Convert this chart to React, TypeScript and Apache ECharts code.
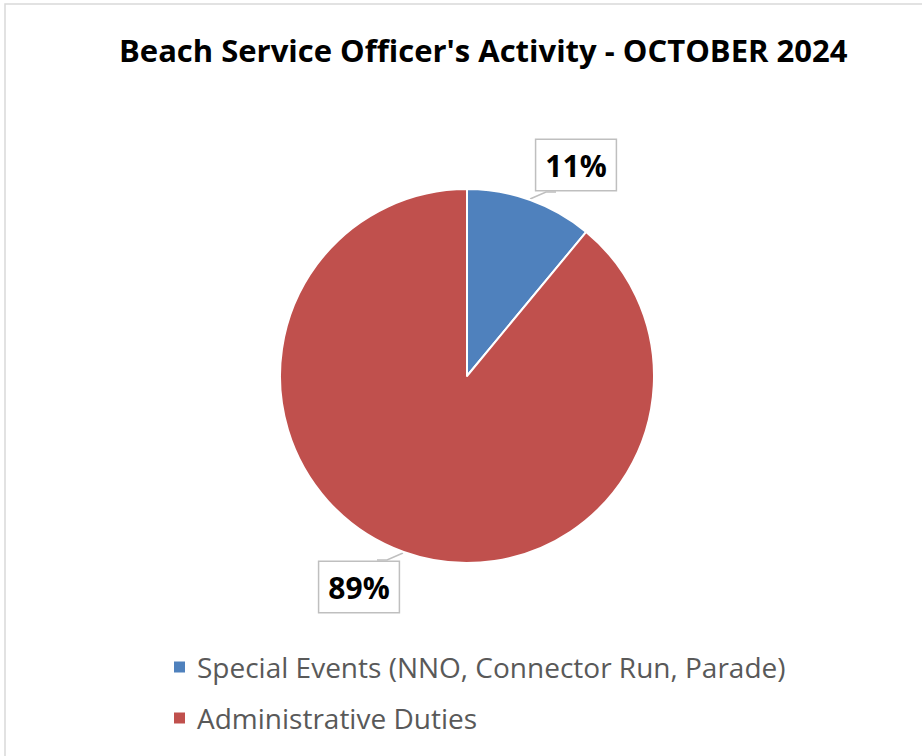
import React, { useEffect, useRef } from "react";
import * as echarts from "echarts";

const categories = ["Special Events (NNO, Connector Run, Parade)", "Administrative Duties"];
const values = [11, 89];
const colors = ["#4f81bd", "#c0504d"];
const titleText = "Beach Service Officer's Activity - OCTOBER 2024";

export default function App() {
  const ref = useRef<HTMLDivElement>(null);
  useEffect(() => {
    if (!ref.current) return;
    const chart = echarts.init(ref.current, null, { renderer: "svg" });
    const labelPos: Record<number, [number, number]> = { 0: [576, 165], 1: [359, 587] };
    const linePts: Record<number, number[][]> = {
      0: [[530, 199], [546, 192], [556, 192]],
      1: [[403, 553], [387, 560], [377, 560]],
    };
    chart.setOption({
      animation: false,
      backgroundColor: "#ffffff",
      title: {
        text: titleText,
        left: 114,
        top: 29,
        textStyle: { fontFamily: "Open Sans", fontWeight: "bold", fontSize: 31, color: "#000000" },
      },
      graphic: [
        {
          type: "rect",
          shape: { x: 5, y: 4, width: 940, height: 780 },
          style: { fill: "none", stroke: "#d9d9d9", lineWidth: 1.5 },
          silent: true,
        },
      ],
      legend: {
        orient: "vertical",
        left: 172,
        top: 652,
        padding: 0,
        itemWidth: 13,
        itemHeight: 13,
        itemGap: 21,
        icon: "rect",
        textStyle: { fontFamily: "Open Sans", fontSize: 28, lineHeight: 30, color: "#595959", padding: [0, 0, 0, 6] },
        data: categories,
      },
      series: [
        {
          type: "pie",
          center: [467, 376],
          radius: 187,
          startAngle: 90,
          clockwise: true,
          itemStyle: { borderColor: "#ffffff", borderWidth: 2 },
          data: categories.map((c, i) => ({ name: c, value: values[i], itemStyle: { color: colors[i] } })),
          label: {
            show: true,
            formatter: "{d}%",
            fontFamily: "Open Sans",
            fontWeight: "bold",
            fontSize: 30,
            color: "#000000",
            backgroundColor: "#ffffff",
            borderColor: "#bfbfbf",
            borderWidth: 1.5,
            padding: [10, 9, 10, 9],
          },
          labelLine: { show: true, length: 5, length2: 5, lineStyle: { color: "#bfbfbf", width: 1.5 } },
          labelLayout: (params: any) => {
            const p = labelPos[params.dataIndex];
            return {
              x: p[0],
              y: p[1],
              align: "center",
              verticalAlign: "middle",
              labelLinePoints: linePts[params.dataIndex],
            };
          },
        },
      ],
    });
    return () => chart.dispose();
  }, []);
  return (
    <div
      ref={ref}
      style={{ position: "fixed", left: 0, top: 0, width: 922, height: 756 }}
    />
  );
}
